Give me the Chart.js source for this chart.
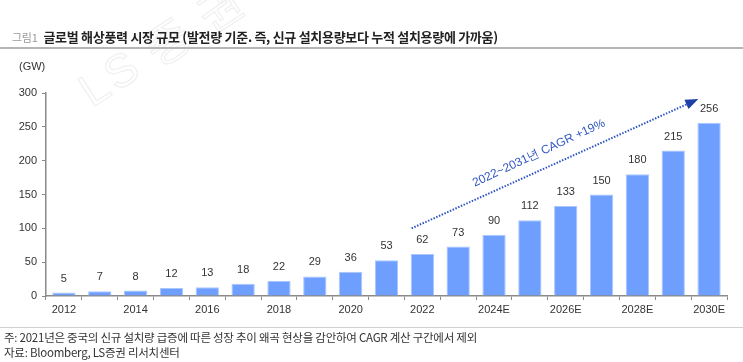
<!DOCTYPE html>
<html><head><meta charset="utf-8">
<script src="https://cdn.jsdelivr.net/npm/chart.js@4.4.1/dist/chart.umd.min.js"></script>
<style>
html,body{margin:0;padding:0;background:#fff;}
#wrap{position:relative;width:743px;height:362px;overflow:hidden;font-family:"Noto Sans CJK KR","Noto Sans",sans-serif;}
canvas{position:absolute;left:0;top:0;}
.t{position:absolute;white-space:nowrap;}
#title{left:12px;top:27px;font-size:13px;font-weight:bold;color:#222;letter-spacing:-0.3px;}
#title span{font-weight:normal;color:#999;font-size:11px;margin-right:6px;}
#rule{position:absolute;left:0;top:47px;width:743px;height:2px;background:#b5b5b5;}
#unit{left:19px;top:60px;font-family:"Liberation Sans",Arial,sans-serif;font-size:11px;color:#333;}
#rule2{position:absolute;left:0;top:327px;width:743px;height:1px;background:#d0d0d0;}
#n1{left:4px;top:329px;font-size:11.5px;color:#333;letter-spacing:-0.25px;}
#n2{left:4px;top:344px;font-size:11.5px;color:#333;letter-spacing:-0.25px;}
</style></head>
<body><div id="wrap">
<canvas id="c" width="743" height="362"></canvas>
<div class="t" id="title"><span>그림1</span>글로벌 해상풍력 시장 규모 (발전량 기준. 즉, 신규 설치용량보다 누적 설치용량에 가까움)</div>
<div id="rule"></div>
<div class="t" id="unit">(GW)</div>
<div id="rule2"></div>
<div class="t" id="n1">주: 2021년은 중국의 신규 설치량 급증에 따른 성장 추이 왜곡 현상을 감안하여 CAGR 계산 구간에서 제외</div>
<div class="t" id="n2">자료: Bloomberg, LS증권 리서치센터</div>
</div>
<script>
const categories = ["2012","2013","2014","2015","2016","2017","2018","2019","2020","2021","2022","2023","2024E","2025E","2026E","2027E","2028E","2029E","2030E"];
const capacityGW = [5,7,8,12,13,18,22,29,36,53,62,73,90,112,133,150,180,215,256];
const yTicks = [0,50,100,150,200,250,300];
const cagrText = "2022~2031년 CAGR +19%";
// arrow annotation anchors in data units: [categoryIndex, value]
const arrowStart = [9.7, 100];
const arrowEnd = [17.7, 291];
const textAnchor = [13.25, 211];

const barColor = "#6e9fff";

const decor = {
  id: 'decor',
  beforeDraw(chart) {
    const ctx = chart.ctx;
    ctx.save();
    ctx.translate(92, 108);
    ctx.rotate(-33 * Math.PI / 180);
    ctx.font = '300 46px "Liberation Sans", sans-serif';
    ctx.strokeStyle = '#f0f0f0';
    ctx.lineWidth = 1.2;
    const wm = "LS 증 권  리 서 치 센 터";
    let x = 0;
    for (const ch of wm) {
      ctx.strokeText(ch, x, 0);
      x += ch === ' ' ? 12 : ctx.measureText(ch).width + 4;
    }
    ctx.restore();
  },
  afterDatasetsDraw(chart) {
    const ctx = chart.ctx;
    const xs = chart.scales.x, ys = chart.scales.y;
    const meta = chart.getDatasetMeta(0);
    ctx.save();
    ctx.font = '11px "Liberation Sans", Arial, sans-serif';
    ctx.fillStyle = '#333';
    ctx.textAlign = 'center';
    ctx.textBaseline = 'middle';
    meta.data.forEach((bar, i) => {
      ctx.fillText(String(capacityGW[i]), bar.x, bar.y - 14);
    });
    // arrow
    const step = xs.getPixelForValue(1) - xs.getPixelForValue(0);
    const px = v => xs.getPixelForValue(0) + v[0] * step;
    const x1 = px(arrowStart), y1 = ys.getPixelForValue(arrowStart[1]);
    const x2 = px(arrowEnd), y2 = ys.getPixelForValue(arrowEnd[1]);
    const ang = Math.atan2(y2 - y1, x2 - x1);
    const hl = 13;
    ctx.strokeStyle = '#2f55c4';
    ctx.lineWidth = 2;
    ctx.setLineDash([1.5, 1.5]);
    ctx.beginPath();
    ctx.moveTo(x1, y1);
    ctx.lineTo(x2 - hl * Math.cos(ang), y2 - hl * Math.sin(ang));
    ctx.stroke();
    ctx.setLineDash([]);
    ctx.fillStyle = '#1f3fa8';
    ctx.beginPath();
    ctx.moveTo(x2, y2);
    ctx.lineTo(x2 - hl * Math.cos(ang) + 5 * Math.sin(ang), y2 - hl * Math.sin(ang) - 5 * Math.cos(ang));
    ctx.lineTo(x2 - hl * Math.cos(ang) - 5 * Math.sin(ang), y2 - hl * Math.sin(ang) + 5 * Math.cos(ang));
    ctx.closePath();
    ctx.fill();
    // rotated text
    const tx = px(textAnchor), ty = ys.getPixelForValue(textAnchor[1]);
    ctx.translate(tx, ty);
    ctx.rotate(-25 * Math.PI / 180);
    ctx.font = '12px "Liberation Sans", Arial, sans-serif';
    ctx.fillStyle = '#3358c2';
    ctx.fillText(cagrText, 0, 0);
    ctx.restore();
  }
};

new Chart(document.getElementById('c'), {
  type: 'bar',
  data: {
    labels: categories,
    datasets: [{
      data: capacityGW,
      backgroundColor: barColor,
      borderColor: '#a9c6ff',
      borderWidth: {top: 1, left: 1, right: 1, bottom: 0},
      categoryPercentage: 0.65,
      barPercentage: 1.0
    }]
  },
  options: {
    responsive: false,
    animation: false,
    events: [],
    layout: { padding: { top: 93, bottom: 42, right: 16, left: 0 } },
    plugins: { legend: { display: false }, tooltip: { enabled: false } },
    scales: {
      x: {
        afterFit(s) { s.height = 24; },
        border: { display: true, color: '#8a8a8a', width: 1.5 },
        grid: { display: true, offset: true, drawOnChartArea: false, drawTicks: true, tickLength: 4, color: '#8a8a8a' },
        ticks: {
          autoSkip: false, maxRotation: 0, padding: 3, color: '#333',
          font: { family: '"Liberation Sans", Arial, sans-serif', size: 11 },
          callback: (v, i) => i % 2 === 0 ? categories[i] : ''
        }
      },
      y: {
        min: 0, max: 300,
        afterFit(s) { s.width = 46; },
        afterBuildTicks(s) { s.ticks = yTicks.map(v => ({ value: v })); },
        border: { display: true, color: '#8a8a8a', width: 1.5 },
        grid: { display: true, drawOnChartArea: false, drawTicks: true, tickLength: 4, color: '#8a8a8a' },
        ticks: {
          padding: 5, color: '#333',
          font: { family: '"Liberation Sans", Arial, sans-serif', size: 11 }
        }
      }
    }
  },
  plugins: [decor]
});
</script>
</body></html>
